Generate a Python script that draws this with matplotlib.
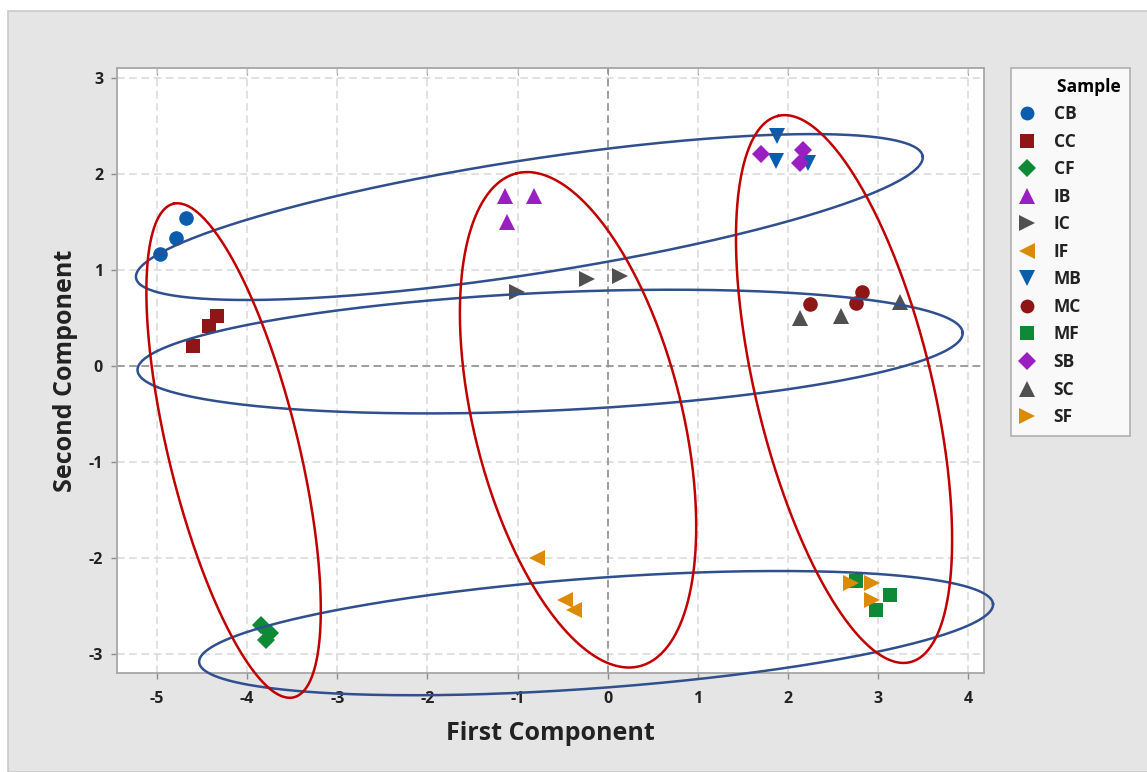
import numpy as np
import matplotlib.pyplot as plt
from matplotlib.patches import Rectangle
from matplotlib.lines import Line2D

plt.rcParams['font.family'] = ['Open Sans', 'DejaVu Sans']
plt.rcParams['axes.unicode_minus'] = False

# sample groups: first component (x) and second component (y) scores
samples = ['CB', 'CC', 'CF', 'IB', 'IC', 'IF', 'MB', 'MC', 'MF', 'SB', 'SC', 'SF']
pc1 = {
    'CB': [-4.97, -4.79, -4.68],
    'CC': [-4.60, -4.42, -4.33],
    'CF': [-3.85, -3.75, -3.79],
    'IB': [-1.14, -0.82, -1.12],
    'IC': [-1.01, -0.23, 0.14],
    'IF': [-0.79, -0.48, -0.37],
    'MB': [1.88, 1.87, 2.22],
    'MC': [2.24, 2.82, 2.75],
    'MF': [2.75, 3.13, 2.97],
    'SB': [1.70, 2.16, 2.13],
    'SC': [2.13, 2.59, 3.24],
    'SF': [2.70, 2.93, 2.93],
}
pc2 = {
    'CB': [1.17, 1.33, 1.54],
    'CC': [0.21, 0.42, 0.52],
    'CF': [-2.70, -2.78, -2.85],
    'IB': [1.77, 1.77, 1.50],
    'IC': [0.77, 0.91, 0.94],
    'IF': [-2.00, -2.44, -2.54],
    'MB': [2.39, 2.13, 2.11],
    'MC': [0.65, 0.77, 0.66],
    'MF': [-2.24, -2.38, -2.54],
    'SB': [2.21, 2.25, 2.11],
    'SC': [0.50, 0.52, 0.67],
    'SF': [-2.26, -2.26, -2.44],
}

markers = {'CB': 'o', 'CC': 's', 'CF': 'D', 'IB': '^', 'IC': '>', 'IF': '<',
           'MB': 'v', 'MC': 'o', 'MF': 's', 'SB': 'D', 'SC': '^', 'SF': '>'}
colors = {'CB': '#0a5cad', 'CC': '#8e1616', 'CF': '#0e8a36', 'IB': '#9a1fc2',
          'IC': '#505050', 'IF': '#db8b05', 'MB': '#0a5cad', 'MC': '#8e1616',
          'MF': '#0e8a36', 'SB': '#9a1fc2', 'SC': '#505050', 'SF': '#db8b05'}
sizes = {'o': 10.5, 's': 10, 'D': 9.2, '^': 11.5, 'v': 11.5, '>': 11.5, '<': 11.5}

# group outlines: centre (data), semi-axes (px), angle (deg)
blue_ellipses = [(-0.87, 1.55, 398, 57, 8.8),
                 (-0.64, 0.15, 413, 59, 2.6),
                 (-0.13, -2.78, 398, 55, 4.2)]
red_ellipses = [(-4.15, -0.88, 254, 65, 103.7),
                (-0.33, -0.56, 254, 104, 104.0),
                (2.62, -0.24, 281, 88, 103.6)]

W, H = 1147, 772
fig = plt.figure(figsize=(W / 100, H / 100), dpi=100)
fig.patches.append(Rectangle((8 / W, 0), 1, 1 - 11 / H, transform=fig.transFigure,
                             facecolor='#e5e5e5', edgecolor='#c9c9c9', lw=1.2, zorder=-10))

l, r, t, b = 117, 984, 68, 673
ax = fig.add_axes([l / W, 1 - b / H, (r - l) / W, (b - t) / H])
ax.set_facecolor('white')
xmin, xmax = -5.443, 4.172
ymin, ymax = -3.195, 3.101
ax.set_xlim(xmin, xmax)
ax.set_ylim(ymin, ymax)

ax.set_xticks(range(-5, 5))
ax.set_yticks(range(-3, 4))
ax.grid(True, color='#d8d8d8', linestyle=(0, (5, 3)), lw=1.1)
ax.set_axisbelow(True)
ax.axhline(0, color='#8c8c8c', linestyle=(0, (5, 3)), lw=1.1, zorder=1)
ax.axvline(0, color='#8c8c8c', linestyle=(0, (5, 3)), lw=1.1, zorder=1)

for s in ax.spines.values():
    s.set_color('#a6a6a6')
    s.set_linewidth(1.3)
ax.tick_params(axis='both', color='#8c8c8c', length=4, width=1,
               labelsize=11.5, labelcolor='#222222', direction='out')
ax.tick_params(axis='x', pad=9)
ax.tick_params(axis='y', pad=6)
for lab in ax.get_xticklabels() + ax.get_yticklabels():
    lab.set_fontweight('bold')
sec = ax.secondary_xaxis('top')
sec.set_xticks(range(-5, 5))
sec.tick_params(direction='in', length=5, color='#8c8c8c', labeltop=False)
sec.spines['top'].set_visible(False)

ax.set_xlabel('First Component', fontsize=18, fontweight='bold', color='#222222', labelpad=10)
ax.set_ylabel('Second Component', fontsize=18, fontweight='bold', color='#222222', labelpad=8)

for smp in samples:
    m = markers[smp]
    ax.plot(pc1[smp], pc2[smp], linestyle='none', marker=m, ms=sizes[m],
            color=colors[smp], markeredgewidth=0, zorder=3)

sx = (r - l) / (xmax - xmin)
sy = (b - t) / (ymax - ymin)
tt = np.linspace(0, 2 * np.pi, 500)


def draw_ellipse(cx, cy, a, bb, ang, col):
    ca, sa = np.cos(np.radians(ang)), np.sin(np.radians(ang))
    px = a * np.cos(tt) * ca - bb * np.sin(tt) * sa
    py = a * np.cos(tt) * sa + bb * np.sin(tt) * ca
    ax.plot(cx + px / sx, cy + py / sy, color=col, lw=1.8, clip_on=False, zorder=4)


for e in blue_ellipses:
    draw_ellipse(*e, '#2f4f8f')
for e in red_ellipses:
    draw_ellipse(*e, '#c00000')

handles = [Line2D([], [], linestyle='none', marker=markers[s], ms=sizes[markers[s]] * 0.95,
                  color=colors[s], markeredgewidth=0) for s in samples]
leg = fig.legend(handles, samples, title='        Sample', loc='upper left',
                 bbox_to_anchor=(1011 / W, 1 - 68 / H), frameon=True, fontsize=12.5,
                 title_fontsize=12.5, labelspacing=0.55, handletextpad=1.1,
                 borderpad=0.55, handlelength=0.8, borderaxespad=0, fancybox=False)
leg.get_frame().set_edgecolor('#a6a6a6')
leg.get_frame().set_linewidth(1.3)
leg.get_title().set_fontweight('bold')
leg._legend_box.align = 'left'
for txt in leg.get_texts():
    txt.set_fontweight('bold')
    txt.set_color('#222222')

fig.savefig('out.png', dpi=100)
